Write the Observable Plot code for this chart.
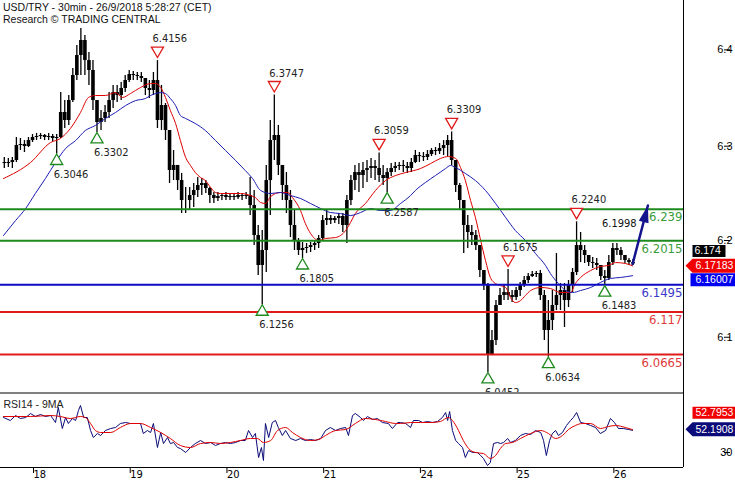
<!DOCTYPE html>
<html><head><meta charset="utf-8">
<script src="https://cdn.jsdelivr.net/npm/d3@7"></script>
<script src="https://cdn.jsdelivr.net/npm/@observablehq/plot@0.6"></script>
<style>
body{margin:0;background:#fff;}
#wrap{position:relative;width:735px;height:480px;overflow:hidden;font-family:"Liberation Sans",Arial,sans-serif;background:#fff;}
#main{position:absolute;left:0;top:0;}
#rsi{position:absolute;left:0;top:392px;}
.title{position:absolute;left:3px;font-size:10.5px;line-height:12px;color:#111;white-space:nowrap;}
</style></head><body>
<div id="wrap"><div id="main"></div><div id="rsi"></div>
<div class="title" style="top:1px">USD/TRY - 30min - 26/9/2018 5:28:27 (CET)</div>
<div class="title" style="top:13px">Research © TRADING CENTRAL</div>
</div>
<script>
// ---------- DATA ----------
// hourly bars, time = trading hours since 18 Sep 00:00 (weekend removed)
const firstHour = -7;
const firstOpen = 6.2945;
const high = [
6.3005,6.2993,6.3005,6.3242,6.3230,6.3206,6.3242,6.3278,6.3290,6.3290,
6.3278,6.3290,6.3278,6.3278,6.3776,6.3681,6.3741,6.4061,6.4335,6.4536,
6.4453,6.4251,6.4156,6.3681,6.3563,6.3622,6.3776,6.3860,6.3860,6.3895,
6.3978,6.4038,6.4026,6.4014,6.4014,6.3943,6.3919,6.4014,6.4156,6.3860,
6.3646,6.3325,6.3088,6.2910,6.2815,6.2648,6.2648,6.2696,6.2767,6.2755,
6.2731,6.2648,6.2589,6.2589,6.2577,6.2589,6.2577,6.2577,6.2589,6.2577,
6.2589,6.2767,6.2613,6.2197,6.2138,6.2910,6.3444,6.3747,6.3385,6.2910,
6.2826,6.2613,6.2375,6.2043,6.1995,6.1983,6.1995,6.2019,6.2078,6.2316,
6.2375,6.2316,6.2304,6.2339,6.2339,6.2553,6.2791,6.2910,6.2933,6.2945,
6.2969,6.2993,6.2969,6.3059,6.2910,6.2874,6.2933,6.2945,6.2945,6.2969,
6.2945,6.2993,6.3088,6.3064,6.3064,6.3088,6.3111,6.3123,6.3171,6.3206,
6.3266,6.3309,6.2969,6.2696,6.2494,6.2316,6.2197,6.2138,6.1959,6.1663,
6.1508,6.0950,6.1306,6.1449,6.1484,6.1675,6.1425,6.1461,6.1520,6.1591,
6.1627,6.1651,6.1651,6.1663,6.1425,6.1306,6.1425,6.1864,6.1508,6.1508,
6.1544,6.1686,6.2240,6.2114,6.1959,6.1841,6.1817,6.1805,6.1722,6.1663,
6.1841,6.1983,6.1983,6.1936,6.1841,6.1805,6.1793];
const low = [
6.2874,6.2886,6.2874,6.2945,6.3088,6.3064,6.3123,6.3183,6.3206,6.3218,
6.3206,6.3206,6.3195,6.3046,6.3230,6.3349,6.3385,6.3658,6.3919,6.3978,
6.3978,6.3860,6.3563,6.3302,6.3325,6.3420,6.3468,6.3586,6.3658,6.3681,
6.3776,6.3895,6.3919,6.3919,6.3895,6.3741,6.3705,6.3741,6.3349,6.3325,
6.3206,6.2696,6.2731,6.2613,6.2339,6.2339,6.2375,6.2411,6.2529,6.2553,
6.2577,6.2458,6.2458,6.2482,6.2494,6.2494,6.2494,6.2494,6.2506,6.2494,
6.2506,6.2316,6.1959,6.1603,6.1256,6.1639,6.2316,6.2969,6.2791,6.2494,
6.2339,6.2054,6.1900,6.1841,6.1805,6.1864,6.1876,6.1900,6.1924,6.2019,
6.2197,6.2209,6.2221,6.2209,6.2114,6.1983,6.2434,6.2613,6.2589,6.2636,
6.2708,6.2755,6.2731,6.2708,6.2672,6.2587,6.2779,6.2826,6.2850,6.2826,
6.2815,6.2826,6.2933,6.2945,6.2957,6.2969,6.3016,6.3028,6.3040,6.3028,
6.3016,6.2910,6.2589,6.2375,6.1864,6.1924,6.1959,6.1900,6.1580,6.1425,
6.0452,6.0653,6.0772,6.1247,6.1306,6.1306,6.1282,6.1306,6.1354,6.1461,
6.1508,6.1580,6.1580,6.1306,6.0831,6.0634,6.0950,6.1187,6.1187,6.0986,
6.1223,6.1401,6.1603,6.1757,6.1746,6.1710,6.1686,6.1663,6.1544,6.1483,
6.1544,6.1722,6.1841,6.1781,6.1746,6.1722,6.1722];
const close = [
6.2933,6.2945,6.2969,6.3147,6.3159,6.3135,6.3206,6.3242,6.3254,6.3266,
6.3242,6.3254,6.3230,6.3242,6.3539,6.3444,6.3681,6.3978,6.4216,6.4394,
6.4156,6.4038,6.3681,6.3420,6.3468,6.3539,6.3681,6.3776,6.3741,6.3824,
6.3919,6.3990,6.3978,6.3966,6.3943,6.3824,6.3800,6.3919,6.3444,6.3622,
6.3325,6.2850,6.2910,6.2731,6.2494,6.2494,6.2553,6.2613,6.2672,6.2696,
6.2636,6.2553,6.2518,6.2541,6.2553,6.2529,6.2541,6.2529,6.2553,6.2541,
6.2553,6.2434,6.2078,6.1722,6.1900,6.2731,6.3206,6.3266,6.2910,6.2672,
6.2494,6.2197,6.2019,6.1900,6.1924,6.1936,6.1959,6.1983,6.2043,6.2256,
6.2280,6.2256,6.2280,6.2304,6.2197,6.2494,6.2731,6.2826,6.2791,6.2850,
6.2874,6.2898,6.2874,6.2791,6.2755,6.2826,6.2874,6.2898,6.2910,6.2898,
6.2874,6.2945,6.3028,6.3016,6.3005,6.3040,6.3088,6.3076,6.3111,6.3147,
6.3206,6.2969,6.2672,6.2494,6.2197,6.2114,6.2078,6.1959,6.1663,6.1484,
6.0653,6.0831,6.1247,6.1366,6.1401,6.1366,6.1342,6.1425,6.1484,6.1544,
6.1591,6.1615,6.1627,6.1366,6.0950,6.1069,6.1247,6.1366,6.1425,6.1306,
6.1484,6.1639,6.1959,6.1900,6.1841,6.1757,6.1746,6.1722,6.1591,6.1568,
6.1757,6.1924,6.1900,6.1841,6.1781,6.1757,6.1740];

// moving averages on price: [time, value]
const redMA = [[-6.7,6.2755],[0,6.2945],[5.0,6.3183],[7.4,6.3230],[9.9,6.3349],[12.4,6.3539],[14.4,6.3717],[16.1,6.3741],[18.6,6.3741],[21.1,6.3776],[22.8,6.3717],[24.8,6.3764],[27.3,6.3836],[29.8,6.3883],[31.0,6.3883],[32.3,6.3836],[33.5,6.3717],[34.7,6.3563],[36.0,6.3408],[37.2,6.3206],[38.5,6.3005],[39.7,6.2910],[40.9,6.2826],[42.2,6.2767],[43.4,6.2731],[44.7,6.2648],[45.9,6.2589],[47.1,6.2577],[49.6,6.2577],[52.1,6.2577],[54.6,6.2553],[55.8,6.2529],[57.1,6.2470],[58.3,6.2458],[59.6,6.2541],[62.0,6.2589],[63.8,6.2589],[65.0,6.2529],[67.0,6.2375],[68.2,6.2221],[69.5,6.2102],[71.5,6.2019],[73.2,6.2043],[75.7,6.2054],[78.2,6.2138],[79.4,6.2233],[80.6,6.2339],[83.1,6.2458],[85.6,6.2613],[88.1,6.2731],[90.6,6.2791],[93.1,6.2826],[96.8,6.2874],[99.3,6.2933],[101.7,6.2993],[103.7,6.3016],[105.5,6.2993],[106.7,6.2886],[107.9,6.2731],[109.2,6.2494],[110.4,6.2292],[111.7,6.2019],[112.9,6.1781],[114.1,6.1580],[115.4,6.1508],[116.6,6.1484],[117.9,6.1461],[119.1,6.1342],[120.3,6.1282],[121.6,6.1306],[122.8,6.1366],[124.1,6.1425],[126.6,6.1461],[129.0,6.1449],[131.5,6.1401],[134.0,6.1401],[135.2,6.1508],[136.5,6.1580],[139.0,6.1663],[141.4,6.1710],[143.4,6.1722],[145.2,6.1757],[147.6,6.1746],[149.4,6.1718]];
const blueMA = [[-6.7,6.2078],[-3.7,6.2256],[-1.2,6.2399],[1.2,6.2577],[3.7,6.2755],[6.2,6.2945],[8.7,6.3111],[11.2,6.3206],[13.6,6.3325],[16.1,6.3385],[18.6,6.3468],[21.1,6.3539],[23.6,6.3622],[26.1,6.3681],[28.5,6.3705],[29.8,6.3741],[31.0,6.3764],[32.3,6.3776],[33.5,6.3764],[34.7,6.3705],[36.0,6.3622],[37.2,6.3503],[38.5,6.3468],[40.9,6.3408],[43.4,6.3325],[45.9,6.3206],[48.4,6.3088],[50.9,6.2969],[53.3,6.2850],[55.1,6.2755],[57.1,6.2613],[59.6,6.2577],[62.0,6.2589],[64.5,6.2553],[67.0,6.2518],[69.5,6.2458],[72.0,6.2399],[74.4,6.2351],[76.9,6.2339],[79.4,6.2316],[81.9,6.2351],[84.4,6.2399],[86.8,6.2375],[89.3,6.2375],[91.8,6.2458],[94.3,6.2553],[95.5,6.2613],[98.0,6.2708],[100.5,6.2791],[103.0,6.2874],[104.2,6.2910],[105.5,6.2886],[107.9,6.2815],[110.4,6.2731],[112.9,6.2613],[115.4,6.2458],[117.9,6.2292],[120.3,6.2138],[122.8,6.2019],[125.3,6.1864],[127.8,6.1722],[129.0,6.1627],[131.0,6.1508],[132.8,6.1425],[134.5,6.1401],[136.5,6.1425],[139.0,6.1461],[141.4,6.1520],[143.9,6.1568],[146.4,6.1580],[149.4,6.1601]];

// pivots
const pivotHours  = [31, 60, 86, 104, 118, 135, 6, 16, 57, 67, 88, 113, 128, 142];
const pivotValues = [6.4156, 6.3747, 6.3059, 6.3309, 6.1675, 6.2240, 6.3046, 6.3302, 6.1256, 6.1805, 6.2587, 6.0452, 6.0634, 6.1483];
const pivotKinds  = ["high","high","high","high","high","high","low","low","low","low","low","low","low","low"];

// support / resistance levels
const levelValues = [6.239, 6.2015, 6.1495, 6.117, 6.0665];
const levelLabels = ["6.239", "6.2015", "6.1495", "6.117", "6.0665"];
const levelColors = ["#1e8a1e", "#1e8a1e", "#0c0cc4", "#e01a1a", "#e01a1a"];
const levelTextColors = ["#3c9c3c", "#3c9c3c", "#3a3ac8", "#e03a3a", "#e03a3a"];

// projection
const projTimes = [149.4, 153.2];
const projValues = [6.174, 6.2434];
const projLabel = "6.1998";

// axes
const yTickValues = [6.4283, 6.3139, 6.2019, 6.0870];
const yTickLabels = ["6.4", "6.3", "6.2", "6.1"];
const dayTicks  = [0, 24, 48, 72, 96, 120, 144];
const dayLabels = ["18", "19", "20", "21", "24", "25", "26"];

// RSI14 and its 9MA: [time, value]
const rsi = [[-6.7,65],[-5.0,62],[-3.7,67],[-2.5,64],[-1.2,65],[0,69],[1.2,66],[2.5,68],[3.7,66],[5.0,67],[6.2,60],[6.9,75],[7.9,54],[8.7,65],[9.4,59],[10.4,64],[11.2,62],[11.9,72],[12.4,77],[13.2,65],[14.1,65],[14.9,52],[15.6,45],[16.6,49],[17.4,47],[18.6,52],[19.9,54],[21.1,55],[22.3,59],[23.6,60],[24.8,59],[26.1,59],[27.3,59],[28.0,49],[29.0,52],[29.8,50],[30.5,59],[31.5,35],[32.3,50],[33.0,39],[34.0,45],[34.7,39],[35.5,40],[36.5,35],[37.2,34],[38.5,30],[39.7,35],[40.9,39],[42.2,42],[43.4,39],[44.7,40],[45.9,37],[47.1,39],[48.4,40],[49.6,39],[50.9,40],[52.1,42],[53.3,42],[54.1,52],[55.1,45],[55.8,49],[56.6,25],[57.3,35],[57.8,22],[58.3,59],[59.1,45],[60.0,60],[60.8,62],[61.5,55],[62.5,47],[63.3,52],[64.5,44],[65.8,42],[67.0,44],[68.2,42],[69.5,43],[70.7,42],[72.0,44],[73.2,52],[74.4,55],[75.7,52],[76.9,54],[78.2,55],[78.9,47],[79.9,67],[80.6,69],[81.9,65],[82.6,62],[83.6,66],[84.9,63],[86.1,64],[87.3,60],[88.8,59],[89.8,54],[91.1,60],[91.8,60],[93.1,59],[94.3,55],[95.0,62],[96.3,62],[97.3,60],[98.5,61],[99.8,60],[101.0,61],[102.2,65],[103.0,70],[103.5,62],[104.0,71],[104.7,52],[105.5,42],[106.2,39],[107.2,35],[107.9,25],[108.7,32],[109.7,30],[110.9,30],[111.7,27],[112.4,24],[113.4,17],[114.1,20],[114.9,39],[115.9,40],[116.6,39],[117.4,40],[118.4,44],[119.1,40],[120.3,42],[121.6,47],[122.8,49],[124.1,48],[125.3,52],[126.6,50],[127.3,42],[128.0,27],[128.8,42],[129.5,49],[130.3,52],[131.0,47],[132.0,50],[133.0,57],[134.0,62],[134.7,65],[135.5,70],[136.5,60],[137.7,59],[139.0,57],[140.2,55],[141.4,49],[142.7,52],[143.9,64],[144.9,60],[145.9,54],[147.1,54],[148.4,53],[149.4,52.1908]];
const rsiMA = [[-6.7,66],[0,66],[5.0,67],[7.4,66],[9.9,64],[12.4,66],[13.6,65],[14.9,59],[16.1,52],[17.4,50],[19.9,50],[22.3,55],[24.8,59],[27.3,59],[29.8,55],[32.3,50],[34.7,44],[37.2,37],[39.7,35],[42.2,39],[44.7,40],[47.1,39],[49.6,40],[52.1,42],[54.6,44],[56.3,44],[57.8,40],[59.6,42],[61.3,52],[63.3,55],[65.0,50],[67.0,45],[69.5,42],[71.5,43],[73.2,47],[75.7,52],[78.2,53],[80.6,59],[83.1,64],[85.6,63],[88.1,61],[90.6,59],[91.8,59],[94.3,60],[96.8,60],[99.3,60],[101.7,61],[103.7,65],[104.7,62],[106.2,52],[107.4,42],[108.7,34],[110.4,30],[112.4,29],[114.1,24],[115.4,27],[116.6,34],[117.9,39],[119.6,40],[121.6,44],[124.1,49],[126.6,52],[128.5,49],[130.3,44],[132.0,47],[133.5,53],[135.2,57],[136.9,59],[139.0,59],[141.4,54],[143.4,56],[145.2,57],[147.6,55],[149.4,52.7953]];
const rsiTicks = [70, 30];

// last-value tags
const lastPrice = 6.174, lastRedMA = 6.17183, lastBlueMA = 6.16007;
const lastRSIMA = 52.7953, lastRSI = 52.1908;

// ---------- BUILD ----------
const SANS = "Liberation Sans, Arial, sans-serif";
const NARROW = "Liberation Sans Narrow, Arial Narrow, DejaVu Sans Condensed, sans-serif";
const xDomain = [-7.444, 162.03];
const xMax = xDomain[1];

const bars = high.map((h, i) => ({
  t: firstHour + i + 0.5, high: h, low: low[i],
  open: i ? close[i - 1] : firstOpen, close: close[i]
}));
const pivots = pivotHours.map((h, i) => ({t: h + 0.5, v: pivotValues[i], kind: pivotKinds[i], label: pivotValues[i].toFixed(4)}));
const highs = pivots.filter(d => d.kind === "high");
const lows = pivots.filter(d => d.kind === "low");
const levels = levelValues.map((v, i) => ({v, label: levelLabels[i], color: levelColors[i], tcolor: levelTextColors[i]}));

function tagSymbol(x0, w, h, arrow) {
  return {draw(ctx) {
    if (arrow) {
      ctx.moveTo(x0, 0); ctx.lineTo(x0 + 7, -h / 2); ctx.lineTo(x0 + w, -h / 2);
      ctx.lineTo(x0 + w, h / 2); ctx.lineTo(x0 + 7, h / 2); ctx.closePath();
    } else {
      ctx.moveTo(x0, -h / 2); ctx.lineTo(x0 + w, -h / 2); ctx.lineTo(x0 + w, h / 2);
      ctx.lineTo(x0, h / 2); ctx.closePath();
    }
  }};
}
function tag(value, label, o) {
  return [
    Plot.dot([value], {x: () => xMax, y: d => d, r: 5, symbol: tagSymbol(o.x0, o.w, o.h, o.arrow), fill: o.bg, stroke: "none", dy: o.dy}),
    Plot.text([value], {x: () => xMax, y: d => d, text: () => label, dx: o.tx, dy: o.dy, textAnchor: "start", fill: o.fg, fontSize: 10.5, fontFamily: SANS})
  ];
}
const headSymbol = {draw(ctx) { ctx.moveTo(0, 0); ctx.lineTo(-5, 17); ctx.lineTo(5, 17); ctx.closePath(); }};

const main = Plot.plot({
  width: 735, height: 392,
  marginLeft: 0, marginRight: 52, marginTop: 0, marginBottom: 0,
  style: {background: "white", fontFamily: SANS, overflow: "hidden"},
  x: {domain: xDomain, axis: null},
  y: {domain: [6.0214, 6.4869]},
  marks: [
    Plot.ruleX(bars, {x: "t", y1: "low", y2: "high", stroke: "#000", strokeWidth: 1.3}),
    Plot.ruleX(bars, {x: "t", y1: "open", y2: "close", stroke: "#000", strokeWidth: 3.6}),
    Plot.line(redMA, {x: d => d[0], y: d => d[1], stroke: "#e00000", strokeWidth: 1, curve: "monotone-x"}),
    Plot.line(blueMA, {x: d => d[0], y: d => d[1], stroke: "#1c1cb4", strokeWidth: 1, curve: "monotone-x"}),
    Plot.ruleY(levels, {y: "v", stroke: "color", strokeWidth: 2}),
    Plot.text(levels, {y: "v", text: "label", frameAnchor: "right", dx: -1, dy: 8, textAnchor: "end", fill: "tcolor", fontSize: 13, fontFamily: NARROW}),
    Plot.dot(highs, {x: "t", y: "v", symbol: "triangle", r: 4.5, rotate: 180, dy: -10, stroke: "#e01a1a", fill: "white", strokeWidth: 1.3}),
    Plot.dot(lows, {x: "t", y: "v", symbol: "triangle", r: 4.5, dy: 7, stroke: "#1e8a1e", fill: "white", strokeWidth: 1.3}),
    Plot.text(highs, {x: "t", y: "v", text: "label", dy: -22, dx: -5, textAnchor: "start", fill: "#222", fontSize: 11, fontFamily: NARROW}),
    Plot.text(lows, {x: "t", y: "v", text: "label", dy: 20, dx: -3, textAnchor: "start", fill: "#222", fontSize: 11, fontFamily: NARROW}),
    Plot.line(projTimes.map((t, i) => [t, projValues[i]]), {x: d => d[0], y: d => d[1], stroke: "#14148c", strokeWidth: 2.5}),
    Plot.dot([[projTimes[1], projValues[1]]], {x: d => d[0], y: d => d[1], symbol: headSymbol, r: 5, rotate: 14.5, fill: "#14148c", stroke: "none"}),
    Plot.text([[projTimes[0], projValues[0]]], {x: d => d[0], y: d => d[1], text: () => projLabel, dx: 4, dy: -41, textAnchor: "end", fill: "#111", fontSize: 11, fontFamily: NARROW}),
    Plot.ruleX([xMax], {stroke: "#000"}),
    Plot.axisY({anchor: "right", ticks: yTickValues, tickFormat: d => yTickLabels[yTickValues.indexOf(d)], tickSize: 6, tickPadding: 3, textAnchor: "end", dx: 40, fontSize: 11, fontFamily: SANS, label: null}),
    ...tag(lastPrice, "6.174", {x0: 9, w: 33, h: 12, arrow: false, bg: "#000", fg: "#fff", dy: -13, tx: 11}),
    ...tag(lastRedMA, "6.17183", {x0: 2, w: 52, h: 14, arrow: true, bg: "#f00000", fg: "#fff", dy: 0, tx: 12}),
    ...tag(lastBlueMA, "6.16007", {x0: 7, w: 47, h: 13, arrow: false, bg: "#0000f0", fg: "#fff", dy: 4, tx: 12})
  ]
});
document.getElementById("main").appendChild(main);

const rsiPlot = Plot.plot({
  width: 735, height: 88,
  marginLeft: 0, marginRight: 52, marginTop: 0, marginBottom: 13,
  style: {background: "white", fontFamily: SANS},
  x: {domain: xDomain},
  y: {domain: [15, 90]},
  marks: [
    Plot.line(rsi, {x: d => d[0], y: d => d[1], stroke: "#0a0a78", strokeWidth: 1}),
    Plot.line(rsiMA, {x: d => d[0], y: d => d[1], stroke: "#e00000", strokeWidth: 1, curve: "monotone-x"}),
    Plot.ruleY([90], {stroke: "#000", dy: 0.5}),
    Plot.ruleY([15], {stroke: "#000"}),
    Plot.ruleX([xMax], {stroke: "#000"}),
    Plot.text(["RSI14 - 9MA"], {text: d => d, frameAnchor: "top-left", dx: 3, dy: 8, textAnchor: "start", fill: "#222", fontSize: 10.5, fontFamily: SANS}),
    Plot.axisY({anchor: "right", ticks: rsiTicks, tickFormat: d => String(d), tickSize: 6, tickPadding: 3, textAnchor: "end", dx: 40, fontSize: 11, fontFamily: SANS, label: null}),
    Plot.axisX({anchor: "bottom", ticks: dayTicks, tickFormat: d => dayLabels[dayTicks.indexOf(d)], tickSize: 6, tickPadding: -3, textAnchor: "start", dx: 3, fontSize: 11, fontFamily: NARROW, label: null}),
    ...tag(lastRSIMA, "52.7953", {x0: 9, w: 45, h: 12, arrow: false, bg: "#f00000", fg: "#fff", dy: -17, tx: 12}),
    ...tag(lastRSI, "52.1908", {x0: 2, w: 52, h: 14, arrow: true, bg: "#0a0a78", fg: "#fff", dy: -1, tx: 12})
  ]
});
document.getElementById("rsi").appendChild(rsiPlot);
</script>
</body></html>
